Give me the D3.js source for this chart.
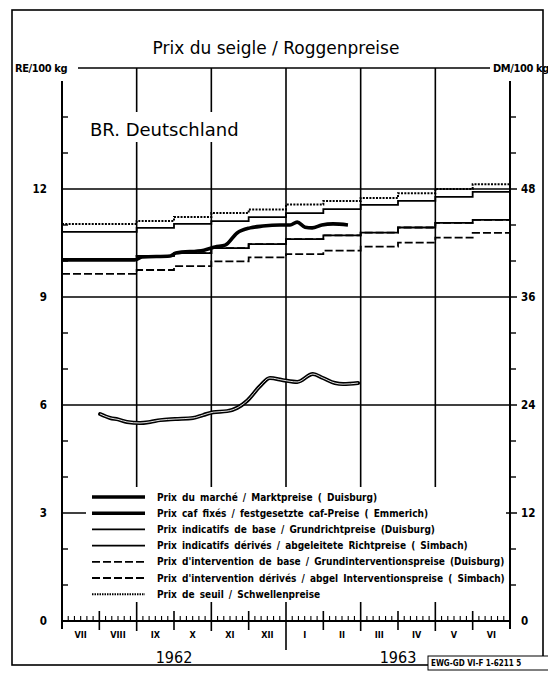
<!DOCTYPE html>
<html>
<head>
<meta charset="utf-8">
<script src="https://cdn.jsdelivr.net/npm/d3@7"></script>
<style>
  body { margin: 0; background: #fff; }
  svg { display: block; }
</style>
</head>
<body>
<div id="chart"></div>
<script>
// values, RE per 100 kg; month index 0 = 1 July 1962
const months = ["VII", "VIII", "IX", "X", "XI", "XII", "I", "II", "III", "IV", "V", "VI"];
const yearLabels = ["1962", "1963"];
const leftTicks = [0, 3, 6, 9, 12];
const rightTicks = [0, 12, 24, 36, 48];

// monthly step prices, Jul 1962 .. Jun 1963
const thresholdPrice = [11.03, 11.03, 11.11, 11.22, 11.33, 11.43, 11.57, 11.67, 11.75, 11.88, 12.0, 12.13];
const baseTarget = [10.81, 10.81, 10.92, 11.03, 11.11, 11.22, 11.33, 11.44, 11.56, 11.67, 11.78, 11.92];
const derivedTarget = [10.03, 10.03, 10.14, 10.22, 10.36, 10.47, 10.61, 10.71, 10.79, 10.93, 11.06, 11.14];
const baseIntervention = [10.03, 10.03, 10.14, 10.22, 10.36, 10.47, 10.61, 10.71, 10.79, 10.93, 11.06, 11.14];
const derivedIntervention = [9.64, 9.64, 9.75, 9.86, 9.99, 10.10, 10.19, 10.29, 10.40, 10.51, 10.65, 10.78];

// market price Duisburg
const marketMonth = [0, 1.95, 2.15, 2.9, 3.05, 3.8, 4.1, 4.37, 4.69, 5.04, 5.38, 5.84, 6.11, 6.30, 6.51, 6.70, 6.96, 7.26, 7.66];
const marketPrice = [10.03, 10.03, 10.11, 10.14, 10.22, 10.30, 10.39, 10.44, 10.78, 10.92, 10.97, 11.0, 11.0, 11.08, 10.94, 10.92, 11.0, 11.03, 11.0];

// fixed cif prices Emmerich
const cafMonth = [1.02, 1.29, 1.50, 1.74, 2.09, 2.36, 2.63, 3.03, 3.51, 3.78, 4.05, 4.42, 4.69, 4.96, 5.30, 5.57, 5.92, 6.30, 6.72, 6.99, 7.31, 7.53, 7.93];
const cafPrice = [5.75, 5.64, 5.60, 5.53, 5.50, 5.53, 5.58, 5.61, 5.64, 5.72, 5.80, 5.83, 5.92, 6.12, 6.52, 6.75, 6.69, 6.64, 6.86, 6.75, 6.61, 6.58, 6.61];

const legendLabels = [
  "Prix du marché / Marktpreise ( Duisburg)",
  "Prix caf fixés / festgesetzte caf-Preise ( Emmerich)",
  "Prix indicatifs de base / Grundrichtpreise (Duisburg)",
  "Prix indicatifs dérivés / abgeleitete Richtpreise ( Simbach)",
  "Prix d'intervention de base / Grundinterventionspreise (Duisburg)",
  "Prix d'intervention dérivés / abgel Interventionspreise ( Simbach)",
  "Prix de seuil / Schwellenpreise"
];

const width = 548, height = 677;
const condensed = "'DejaVu Sans Condensed', 'DejaVu Sans', sans-serif";

const svg = d3.select("#chart").append("svg")
    .attr("width", width)
    .attr("height", height);

svg.append("rect").attr("width", width).attr("height", height).attr("fill", "#fff");

const x = d3.scaleLinear().domain([0, 12]).range([62, 510]);
const y = d3.scaleLinear().domain([0, 15]).range([621, 81]);
const yDM = d3.scaleLinear().domain([0, 60]).range([621, 81]);

// outer frame
svg.append("rect")
    .attr("x", 12).attr("y", 10)
    .attr("width", 531).attr("height", 655)
    .attr("fill", "none").attr("stroke", "#000").attr("stroke-width", 1.6);

svg.append("text")
    .attr("x", 276).attr("y", 54)
    .attr("text-anchor", "middle")
    .attr("font-family", "'DejaVu Sans', sans-serif")
    .attr("font-size", 17)
    .text("Prix du seigle / Roggenpreise");

// units
svg.append("text")
    .attr("x", 15).attr("y", 72)
    .attr("font-family", condensed).attr("font-weight", "bold").attr("font-size", 11)
    .attr("letter-spacing", -0.4)
    .text("RE/100 kg");
svg.append("text")
    .attr("x", 493).attr("y", 72)
    .attr("font-family", condensed).attr("font-weight", "bold").attr("font-size", 11)
    .attr("letter-spacing", -0.4)
    .text("DM/100 kg");

const grid = svg.append("g").attr("stroke", "#000");

const yTop = y(15.36);
grid.append("line")
    .attr("x1", 78).attr("x2", 490)
    .attr("y1", yTop).attr("y2", yTop)
    .attr("stroke-width", 1.6);

// vertical grid every second month
[2, 4, 6, 8, 10].forEach(m => {
    grid.append("line")
        .attr("x1", x(m)).attr("x2", x(m))
        .attr("y1", yTop).attr("y2", m == 6 ? 650 : 631)
        .attr("stroke-width", 1.6);
});

// horizontal grid
leftTicks.filter(d => d > 0).forEach(v => {
    grid.append("line")
        .attr("x1", x(0)).attr("x2", 517)
        .attr("y1", y(v)).attr("y2", y(v))
        .attr("stroke-width", 1.5);
});

// axes
[0, 12].forEach(m => {
    grid.append("line")
        .attr("x1", x(m)).attr("x2", x(m))
        .attr("y1", y(15)).attr("y2", 629)
        .attr("stroke-width", 2);
});
grid.append("line")
    .attr("x1", x(0)).attr("x2", x(12))
    .attr("y1", y(0)).attr("y2", y(0))
    .attr("stroke-width", 2);

// minor y ticks
d3.range(1, 15).filter(v => v % 3 != 0).forEach(v => {
    grid.append("line").attr("x1", x(0)).attr("x2", x(0) + 6)
        .attr("y1", y(v)).attr("y2", y(v)).attr("stroke-width", 1.4);
    grid.append("line").attr("x1", x(12)).attr("x2", x(12) + 6)
        .attr("y1", y(v)).attr("y2", y(v)).attr("stroke-width", 1.4);
});

// month ticks and small day ticks
months.forEach((mo, i) => {
    if (i % 2 == 1) {
        grid.append("line").attr("x1", x(i)).attr("x2", x(i))
            .attr("y1", 611).attr("y2", 630).attr("stroke-width", 1.6);
    }
    d3.range(1, 6).forEach(k => {
        grid.append("line").attr("x1", x(i + k / 6)).attr("x2", x(i + k / 6))
            .attr("y1", y(0)).attr("y2", y(0) - 5).attr("stroke-width", 1.1);
    });
});

// tick labels
svg.append("g")
    .selectAll("text")
    .data(leftTicks)
    .join("text")
    .attr("x", 47)
    .attr("y", d => y(d))
    .attr("dy", "0.36em")
    .attr("text-anchor", "end")
    .attr("font-family", condensed).attr("font-weight", "bold").attr("font-size", 11.5)
    .text(d => d);

svg.append("g")
    .selectAll("text")
    .data(rightTicks)
    .join("text")
    .attr("x", 521)
    .attr("y", d => yDM(d))
    .attr("dy", "0.36em")
    .attr("font-family", condensed).attr("font-weight", "bold").attr("font-size", 11.5)
    .text(d => d);

svg.append("g")
    .selectAll("text")
    .data(months)
    .join("text")
    .attr("x", (d, i) => x(i + 0.5))
    .attr("y", 635)
    .attr("dy", "0.35em")
    .attr("text-anchor", "middle")
    .attr("font-family", condensed).attr("font-weight", "bold").attr("font-size", 9)
    .text(d => d);

svg.append("g")
    .selectAll("text")
    .data(yearLabels)
    .join("text")
    .attr("x", (d, i) => x(3 + i * 6))
    .attr("y", 663)
    .attr("text-anchor", "middle")
    .attr("font-family", condensed).attr("font-size", 16)
    .text(d => d);

// country label, hides the grid behind it
svg.append("rect")
    .attr("x", 86).attr("y", 112).attr("width", 166).attr("height", 30)
    .attr("fill", "#fff");
svg.append("text")
    .attr("x", 90).attr("y", 136)
    .attr("font-family", "'DejaVu Sans', sans-serif")
    .attr("font-size", 18)
    .text("BR. Deutschland");

// series
const stepLine = d3.line()
    .x((d, i) => x(i))
    .y(d => y(d))
    .curve(d3.curveStepAfter);
const withEnd = arr => arr.concat([arr[arr.length - 1]]);

const stepSeries = [
    {values: thresholdPrice, width: 2, dash: "2,1.3"},
    {values: baseTarget, width: 1.8, dash: null},
    {values: derivedTarget, width: 1.8, dash: null},
    {values: baseIntervention, width: 1.8, dash: "8,3"},
    {values: derivedIntervention, width: 1.8, dash: "8,3"}
];
stepSeries.forEach(s => {
    svg.append("path")
        .attr("d", stepLine(withEnd(s.values)))
        .attr("fill", "none")
        .attr("stroke", "#000")
        .attr("stroke-width", s.width)
        .attr("stroke-dasharray", s.dash);
});

const smooth = d3.line()
    .x(d => x(d[0]))
    .y(d => y(d[1]))
    .curve(d3.curveMonotoneX);

svg.append("path")
    .attr("d", smooth(d3.zip(marketMonth, marketPrice)))
    .attr("fill", "none").attr("stroke", "#000")
    .attr("stroke-width", 3.6).attr("stroke-linejoin", "round");

const cafPath = smooth(d3.zip(cafMonth, cafPrice));
svg.append("path")
    .attr("d", cafPath)
    .attr("fill", "none").attr("stroke", "#000")
    .attr("stroke-width", 4).attr("stroke-linejoin", "round").attr("stroke-linecap", "round");
svg.append("path")
    .attr("d", cafPath)
    .attr("fill", "none").attr("stroke", "#fff")
    .attr("stroke-width", 0.9);

// legend
const legend = svg.append("g");
legend.append("rect")
    .attr("x", 86).attr("y", 487).attr("width", 420).attr("height", 115)
    .attr("fill", "#fff");

const legendStyles = [
    {width: 3.6, dash: null},
    {width: 3.6, dash: null},
    {width: 1.8, dash: null},
    {width: 1.8, dash: null},
    {width: 1.8, dash: "8,3"},
    {width: 1.8, dash: "8,3"},
    {width: 2, dash: "1.5,1"}
];
const rowY = i => 497 + i * 16.2;
let cafTextEnd = 0;
legendLabels.forEach((label, i) => {
    legend.append("line")
        .attr("x1", 92).attr("x2", 145)
        .attr("y1", rowY(i)).attr("y2", rowY(i))
        .attr("stroke", "#000")
        .attr("stroke-width", legendStyles[i].width)
        .attr("stroke-dasharray", legendStyles[i].dash);
    const t = legend.append("text")
        .attr("x", 157).attr("y", rowY(i))
        .attr("dy", "0.35em")
        .attr("font-family", condensed).attr("font-weight", "bold").attr("font-size", 10)
        .attr("word-spacing", 2)
        .text(label);
    if (i == 1) cafTextEnd = 157 + t.node().getBBox().width;
});
// grid line at 3 shows again right of the caf entry
grid.append("line")
    .attr("x1", cafTextEnd + 8).attr("x2", 517)
    .attr("y1", y(3)).attr("y2", y(3))
    .attr("stroke-width", 1.5);
svg.node().appendChild(grid.node().lastChild);

// reference box
svg.append("rect")
    .attr("x", 428).attr("y", 656).attr("width", 124).attr("height", 14)
    .attr("fill", "#fff").attr("stroke", "#000").attr("stroke-width", 1);
svg.append("text")
    .attr("x", 431).attr("y", 666)
    .attr("font-family", condensed).attr("font-weight", "bold").attr("font-size", 8)
    .text("EWG-GD VI-F 1-6211 5");
</script>
</body>
</html>
